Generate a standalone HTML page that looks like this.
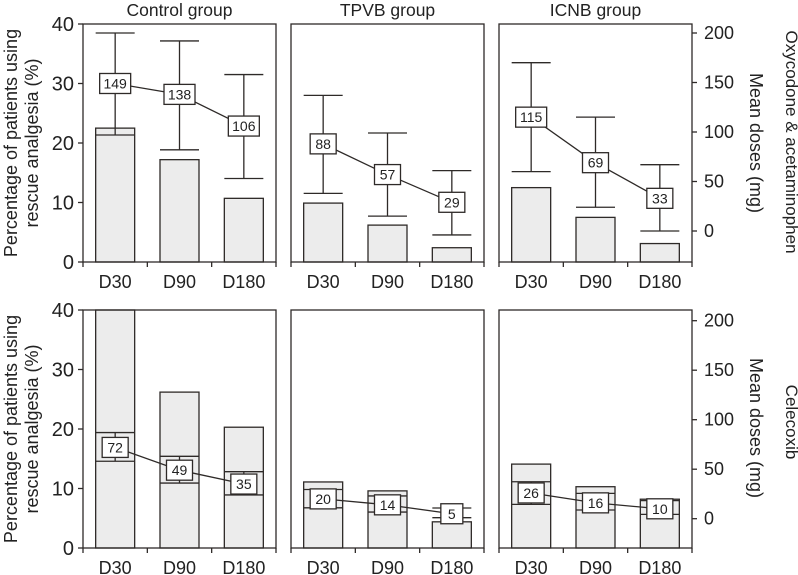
<!DOCTYPE html>
<html><head><meta charset="utf-8">
<style>
html,body{margin:0;padding:0;background:#fff;}
svg{display:block;font-family:"Liberation Sans",Arial,sans-serif;}
</style></head>
<body>
<svg id="chart" width="798" height="575" viewBox="0 0 798 575" xmlns="http://www.w3.org/2000/svg"></svg>
<script>
const categories = ["D30","D90","D180"];
const groups = ["Control group","TPVB group","ICNB group"];
// Top row: oxycodone & acetaminophen
const topPct = [[22.5,17.2,10.7],[9.9,6.2,2.4],[12.5,7.5,3.1]];
const topMean = [[149,138,106],[88,57,29],[115,69,33]];
const topUpper = [[200,192,158],[137,99,61],[170,115,67]];
const topLower = [[97,82,53],[38,15,-4],[60,24,0]];
// Bottom row: celecoxib
const botPct = [[40,26.2,20.3],[11.1,9.6,4.4],[14.1,10.3,8.2]];
const botMean = [[72,49,35],[20,14,5],[26,16,10]];
const botUpper = [[87,63,47.5],[29.5,23,10.8],[37.3,25.6,18.3]];
const botLower = [[58,36,24],[11,6.7,1],[14.5,8.8,4.4]];
const leftTicks = [0,10,20,30,40];
const rightTicks = [0,50,100,150,200];

const NS="http://www.w3.org/2000/svg";
const svg=document.getElementById('chart');
function el(tag,attrs,parent,text){
  const e=document.createElementNS(NS,tag);
  for(const k in attrs)e.setAttribute(k,attrs[k]);
  if(text!==undefined)e.textContent=text;
  (parent||svg).appendChild(e);return e;
}
const panelX=[83,291,499], panelW=193;
const rows=[
 {top:24,bottom:262,r0:231,r200:33,pct:topPct,mean:topMean,up:topUpper,lo:topLower,name:'oxycodone'},
 {top:310,bottom:548,r0:518.7,r200:320.7,pct:botPct,mean:botMean,up:botUpper,lo:botLower,name:'celecoxib'}
];
const STROKE='#2e2a28';
rows.forEach((row,ri)=>{
  const yL=v=>row.bottom-(v/40)*(row.bottom-row.top);
  const yR=v=>row.r0-(v/200)*(row.r0-row.r200);
  for(let g=0;g<3;g++){
    const x0=panelX[g];
    const xC=i=>x0+panelW*(2*i+1)/6;
    const pg=el('g',{});
    
    
    const bw=39;
    categories.forEach((c,i)=>{
      const v=Math.min(row.pct[g][i],40);
      const b=el('rect',{x:xC(i)-bw/2,y:yL(v),width:bw,height:row.bottom-yL(v),fill:'#ececec',stroke:STROKE,'stroke-width':1.3},pg);
      
      
    });
    categories.forEach((c,i)=>{
      const x=xC(i),yu=yR(row.up[g][i]),yl=yR(row.lo[g][i]);
      const e=el('g',{stroke:STROKE,'stroke-width':1.3},pg);
      
      
      el('line',{x1:x,x2:x,y1:yu,y2:yl},e);
      el('line',{x1:x-bw/2,x2:x+bw/2,y1:yu,y2:yu},e);
      el('line',{x1:x-bw/2,x2:x+bw/2,y1:yl,y2:yl},e);
    });
    const pts=categories.map((c,i)=>xC(i)+','+yR(row.mean[g][i])).join(' ');
    const pl=el('polyline',{points:pts,fill:'none',stroke:STROKE,'stroke-width':1.3},pg);
    
    
    categories.forEach((c,i)=>{
      const v=row.mean[g][i],s=String(v);
      const w=s.length>=3?31:(s.length==2?26:22);
      const y=yR(v);
      const lb=el('g',{},pg);
      
      
      el('rect',{x:xC(i)-w/2,y:y-10,width:w,height:20,fill:'#fff',stroke:STROKE,'stroke-width':1.3},lb);
      el('text',{x:xC(i),y:y+5,'text-anchor':'middle','font-size':14,fill:'#222'},lb,s);
    });
    const fr=el('rect',{x:x0,y:row.top,width:panelW,height:row.bottom-row.top,fill:'none',stroke:STROKE,'stroke-width':1.3},pg);
    
    
    for(let k=0;k<=3;k++){
      const xx=x0+panelW*k/3;
      el('line',{x1:xx,x2:xx,y1:row.bottom,y2:row.bottom+5,stroke:STROKE,'stroke-width':1.3},pg);
    }
    categories.forEach((c,i)=>{
      const t=el('text',{x:xC(i),y:row.bottom+26,'text-anchor':'middle','font-size':18,fill:'#222'},pg,c);
      
      
    });
    if(ri===0){
      const t=el('text',{x:x0+panelW/2,y:16,'text-anchor':'middle','font-size':17.5,fill:'#222'},pg,groups[g]);
      
      
    }
  }
  leftTicks.forEach(v=>{
    el('line',{x1:78,x2:83,y1:yL(v),y2:yL(v),stroke:STROKE,'stroke-width':1.3});
    const t=el('text',{x:74,y:yL(v)+7,'text-anchor':'end','font-size':20,fill:'#222'},svg,String(v));
    
    
  });
  rightTicks.forEach(v=>{
    el('line',{x1:692,x2:697,y1:yR(v),y2:yR(v),stroke:STROKE,'stroke-width':1.3});
    const t=el('text',{x:704,y:yR(v)+6,'text-anchor':'start','font-size':18,fill:'#222'},svg,String(v));
    
    
  });
  const cy=(row.top+row.bottom)/2;
  const lt=el('text',{transform:'translate(0,'+cy+') rotate(-90)','text-anchor':'middle','font-size':18,fill:'#222'});
  
  
  el('tspan',{x:0,y:17},lt,'Percentage of patients using');
  el('tspan',{x:0,y:38},lt,'rescue analgesia (%)');
  const rcy = ri===0?143:428;
  const r1=el('text',{transform:'translate(750,'+rcy+') rotate(90)','text-anchor':'middle','font-size':18,fill:'#222'},svg,'Mean doses (mg)');
  
  
  const r2=el('text',{transform:'translate(786,'+(ri===0?142:422)+') rotate(90)','text-anchor':'middle','font-size':17,fill:'#222'},svg,ri===0?'Oxycodone & acetaminophen':'Celecoxib');
  
  
});
</script>
</body></html>
